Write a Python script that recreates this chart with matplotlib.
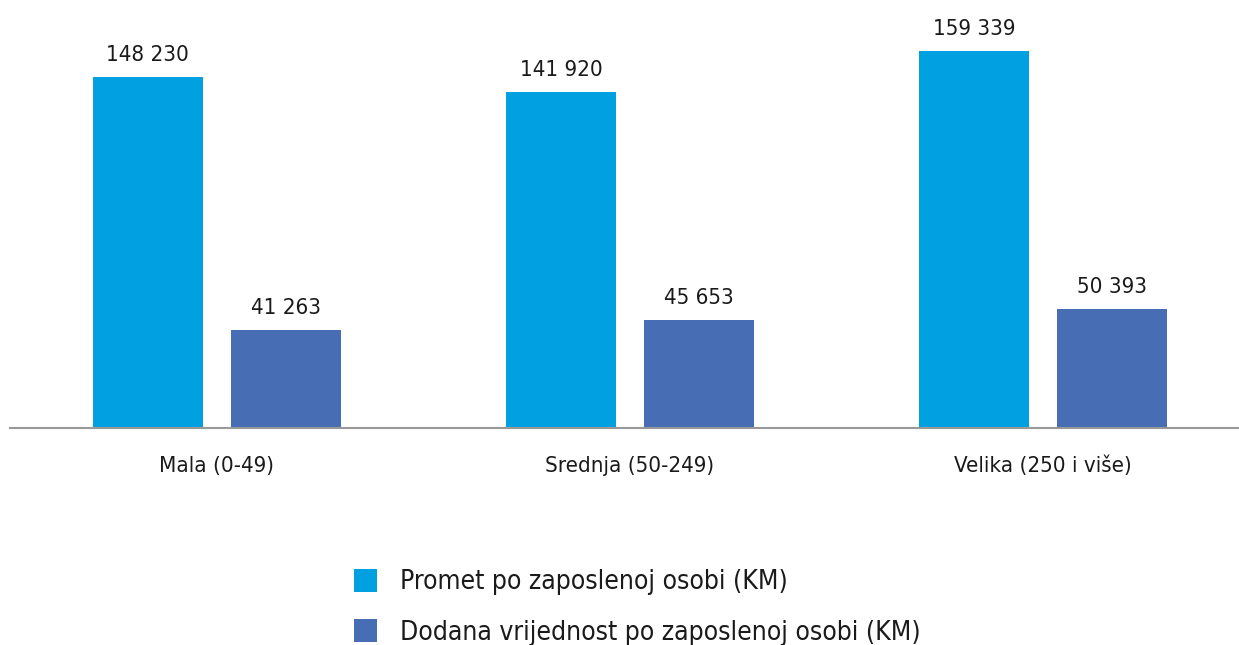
import matplotlib
matplotlib.use("Agg")
import matplotlib.pyplot as plt
import numpy as np
from matplotlib.patches import Patch

# podaci
kategorije = ["Mala (0-49)", "Srednja (50-249)", "Velika (250 i više)"]
promet = [148230, 141920, 159339]
dodana_vrijednost = [41263, 45653, 50393]
serije = ["Promet po zaposlenoj osobi (KM)", "Dodana vrijednost po zaposlenoj osobi (KM)"]

BOJE = ["#00A0E1", "#476EB4"]
plt.rcParams["font.family"] = ["DejaVu Sans"]
plt.rcParams["font.stretch"] = "condensed"

W, H = 1239, 645
fig = plt.figure(figsize=(W / 100, H / 100), dpi=100)
ax = fig.add_axes([10 / W, (H - 428) / H, 1229 / W, 428 / H])

x = np.arange(len(kategorije))
sirina = 0.266
pomak = 0.167

for vals, dx, boja in [(promet, -pomak, BOJE[0]), (dodana_vrijednost, pomak, BOJE[1])]:
    bars = ax.bar(x + dx, vals, width=sirina, color=boja, zorder=2)
    for b, v in zip(bars, vals):
        ax.annotate(f"{v:,}".replace(",", " "),
                    xy=(b.get_x() + b.get_width() / 2, v),
                    xytext=(0, 11.5), textcoords="offset points",
                    ha="center", va="baseline", fontsize=16, color="#1a1a1a")

for i, k in enumerate(kategorije):
    ax.annotate(k, xy=(i, 0), xytext=(0, -31.7), textcoords="offset points",
                ha="center", va="baseline", fontsize=16, color="#1a1a1a",
                annotation_clip=False)

ax.set_xlim(-0.501, 2.475)
ax.set_ylim(0, 180750)
ax.set_xticks([])
ax.set_yticks([])
for s in ["top", "right", "left"]:
    ax.spines[s].set_visible(False)
ax.spines["bottom"].set_color("#999999")
ax.spines["bottom"].set_linewidth(1.5)
ax.spines["bottom"].set_zorder(3)

handles = [Patch(facecolor=c, edgecolor="none") for c in BOJE]
fig.legend(handles, serije, loc="upper left",
           bbox_to_anchor=(354 / W, 1 - 569 / H),
           frameon=False, fontsize=19, borderpad=0, borderaxespad=0,
           handlelength=0.87, handleheight=0.95, handletextpad=0.87,
           labelspacing=0.9, labelcolor="#1a1a1a")

fig.savefig("out.png", dpi=100)
